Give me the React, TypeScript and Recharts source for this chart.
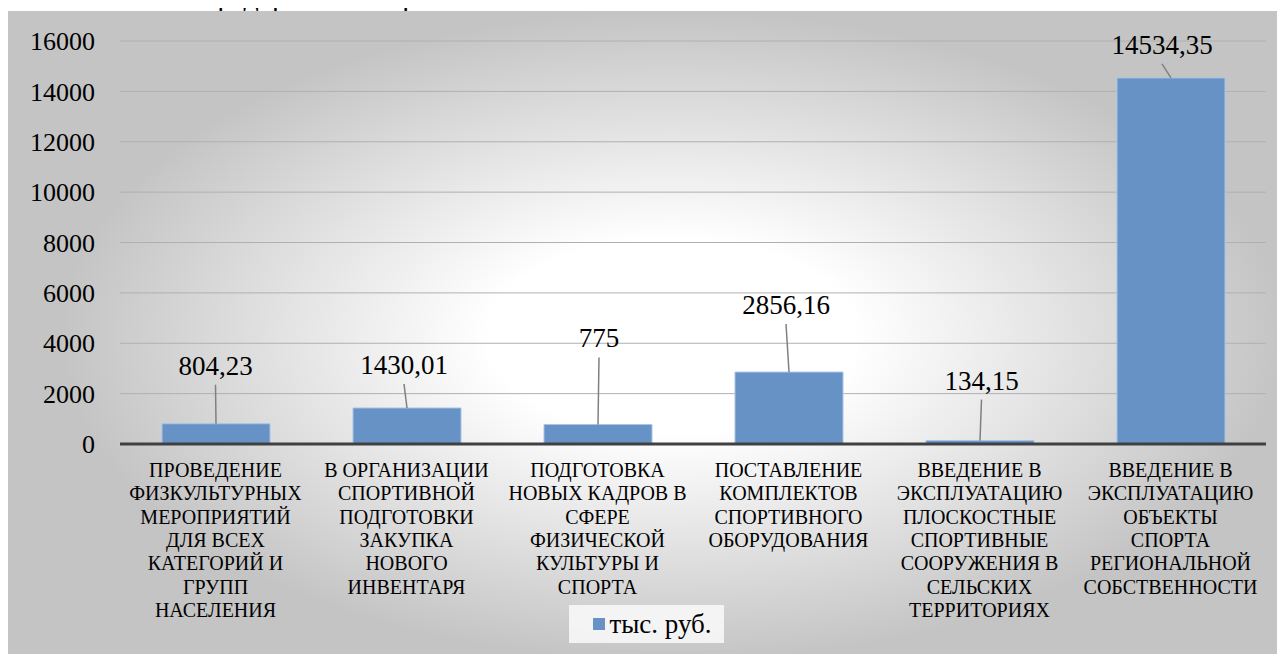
import React from 'react';
import { BarChart, Bar, XAxis, YAxis, CartesianGrid, Legend, LabelList } from 'recharts';

const serif = 'Liberation Serif';

// category names, line breaks as in the original figure
const categories = [
  'ПРОВЕДЕНИЕ\nФИЗКУЛЬТУРНЫХ\nМЕРОПРИЯТИЙ\nДЛЯ ВСЕХ\nКАТЕГОРИЙ И\nГРУПП\nНАСЕЛЕНИЯ',
  'В ОРГАНИЗАЦИИ\nСПОРТИВНОЙ\nПОДГОТОВКИ\nЗАКУПКА\nНОВОГО\nИНВЕНТАРЯ',
  'ПОДГОТОВКА\nНОВЫХ КАДРОВ В\nСФЕРЕ\nФИЗИЧЕСКОЙ\nКУЛЬТУРЫ И\nСПОРТА',
  'ПОСТАВЛЕНИЕ\nКОМПЛЕКТОВ\nСПОРТИВНОГО\nОБОРУДОВАНИЯ',
  'ВВЕДЕНИЕ В\nЭКСПЛУАТАЦИЮ\nПЛОСКОСТНЫЕ\nСПОРТИВНЫЕ\nСООРУЖЕНИЯ В\nСЕЛЬСКИХ\nТЕРРИТОРИЯХ',
  'ВВЕДЕНИЕ В\nЭКСПЛУАТАЦИЮ\nОБЪЕКТЫ\nСПОРТА\nРЕГИОНАЛЬНОЙ\nСОБСТВЕННОСТИ',
];
const values = [804.23, 1430.01, 775, 2856.16, 134.15, 14534.35];
const yTicks = [0, 2000, 4000, 6000, 8000, 10000, 12000, 14000, 16000];
const seriesName = 'тыс. руб.';

// manually placed data labels (dx, dy from top centre of bar), like in the Excel original
const labelShift = [
  [-0.5, -58],
  [-3, -43],
  [1, -86],
  [-3, -67],
  [1.5, -60],
  [-9, -33],
];

const data = categories.map((name, i) => ({ name, value: values[i] }));

const fmt = (v: number) => String(v).replace('.', ',');

const DataLabel = (props: any) => {
  const { x, y, width, value } = props;
  let index = props.index;
  if (index === undefined) index = values.indexOf(Number(value));
  const bx = x + width / 2;
  const [dx, dy] = labelShift[index] || [0, -30];
  const lx = bx + dx;
  const ly = y + dy;
  return (
    <g>
      <line x1={lx} y1={ly + 19} x2={bx} y2={y} stroke="#808080" strokeWidth={1.5} />
      <text x={lx} y={ly + 9} textAnchor="middle" fontSize={27} fontFamily={serif} fill="#000">
        {fmt(Number(value))}
      </text>
    </g>
  );
};

const CategoryTick = (props: any) => {
  const { x, y, payload } = props;
  const lines = String(payload.value).split('\n');
  return (
    <text x={x} y={y} textAnchor="middle" fontSize={20} fontFamily={serif} fill="#000">
      {lines.map((line, i) => (
        <tspan key={i} x={x} dy={i === 0 ? 33 : 23.3}>
          {line}
        </tspan>
      ))}
    </text>
  );
};

const LegendBox = () => (
  <div style={{ display: 'flex', justifyContent: 'center' }}>
    <div
      style={{
        display: 'flex',
        alignItems: 'center',
        background: 'rgba(250,250,250,0.85)',
        padding: '0 12px 0 24px',
        height: 38,
        fontFamily: serif,
        fontSize: 27,
        color: '#000',
      }}
    >
      <span style={{ display: 'inline-block', width: 12, height: 12, background: '#6792c6', marginRight: 4 }} />
      {seriesName}
    </div>
  </div>
);

export default function App() {
  return (
    <div style={{ position: 'relative', width: 1269, height: 646 }}>
      <style>{`#root *, #root text, #root tspan { font-family: 'Liberation Serif', 'Times New Roman', serif !important; }`}</style>
      <svg width={700} height={11} style={{ position: 'absolute', left: -8, top: -8 }}>
        <text x={1} y={6.5} fontSize={30} fontFamily={serif} fill="#000">
          обозначенных в федеральном проекте.
        </text>
      </svg>
      <div
        style={{
          position: 'absolute',
          left: 0,
          top: 3,
          width: 1277,
          height: 651,
          background: 'radial-gradient(ellipse closest-side at 52% 50%, #ffffff 30%, #c4c4c4 100%)',
        }}
      >
        <BarChart width={1277} height={651} data={data} margin={{ top: 30, right: 19, left: 0, bottom: 0 }}>
          <CartesianGrid vertical={false} stroke="#b0b0b0" />
          <XAxis
            dataKey="name"
            interval={0}
            tickLine={false}
            tickSize={0}
            tickMargin={0}
            height={180}
            axisLine={{ stroke: '#404040', strokeWidth: 3 }}
            tick={<CategoryTick />}
          />
          <YAxis
            domain={[0, 16000]}
            ticks={yTicks}
            width={112}
            tickLine={false}
            axisLine={false}
            tickSize={0}
            tickMargin={25}
            tickFormatter={(v: number) => String(v)}
            tick={{ fontSize: 26, fill: '#000', fontFamily: serif }}
          />
          <Legend
            verticalAlign="bottom"
            content={<LegendBox />}
            wrapperStyle={{ position: 'absolute', top: 594, left: 0, width: 1277, height: 38 }}
          />
          <Bar
            dataKey="value"
            name={seriesName}
            fill="#6792c6"
            stroke="#a9c4e6"
            strokeWidth={1}
            barSize={108}
            isAnimationActive={false}
          >
            <LabelList dataKey="value" content={<DataLabel />} />
          </Bar>
        </BarChart>
      </div>
    </div>
  );
}
